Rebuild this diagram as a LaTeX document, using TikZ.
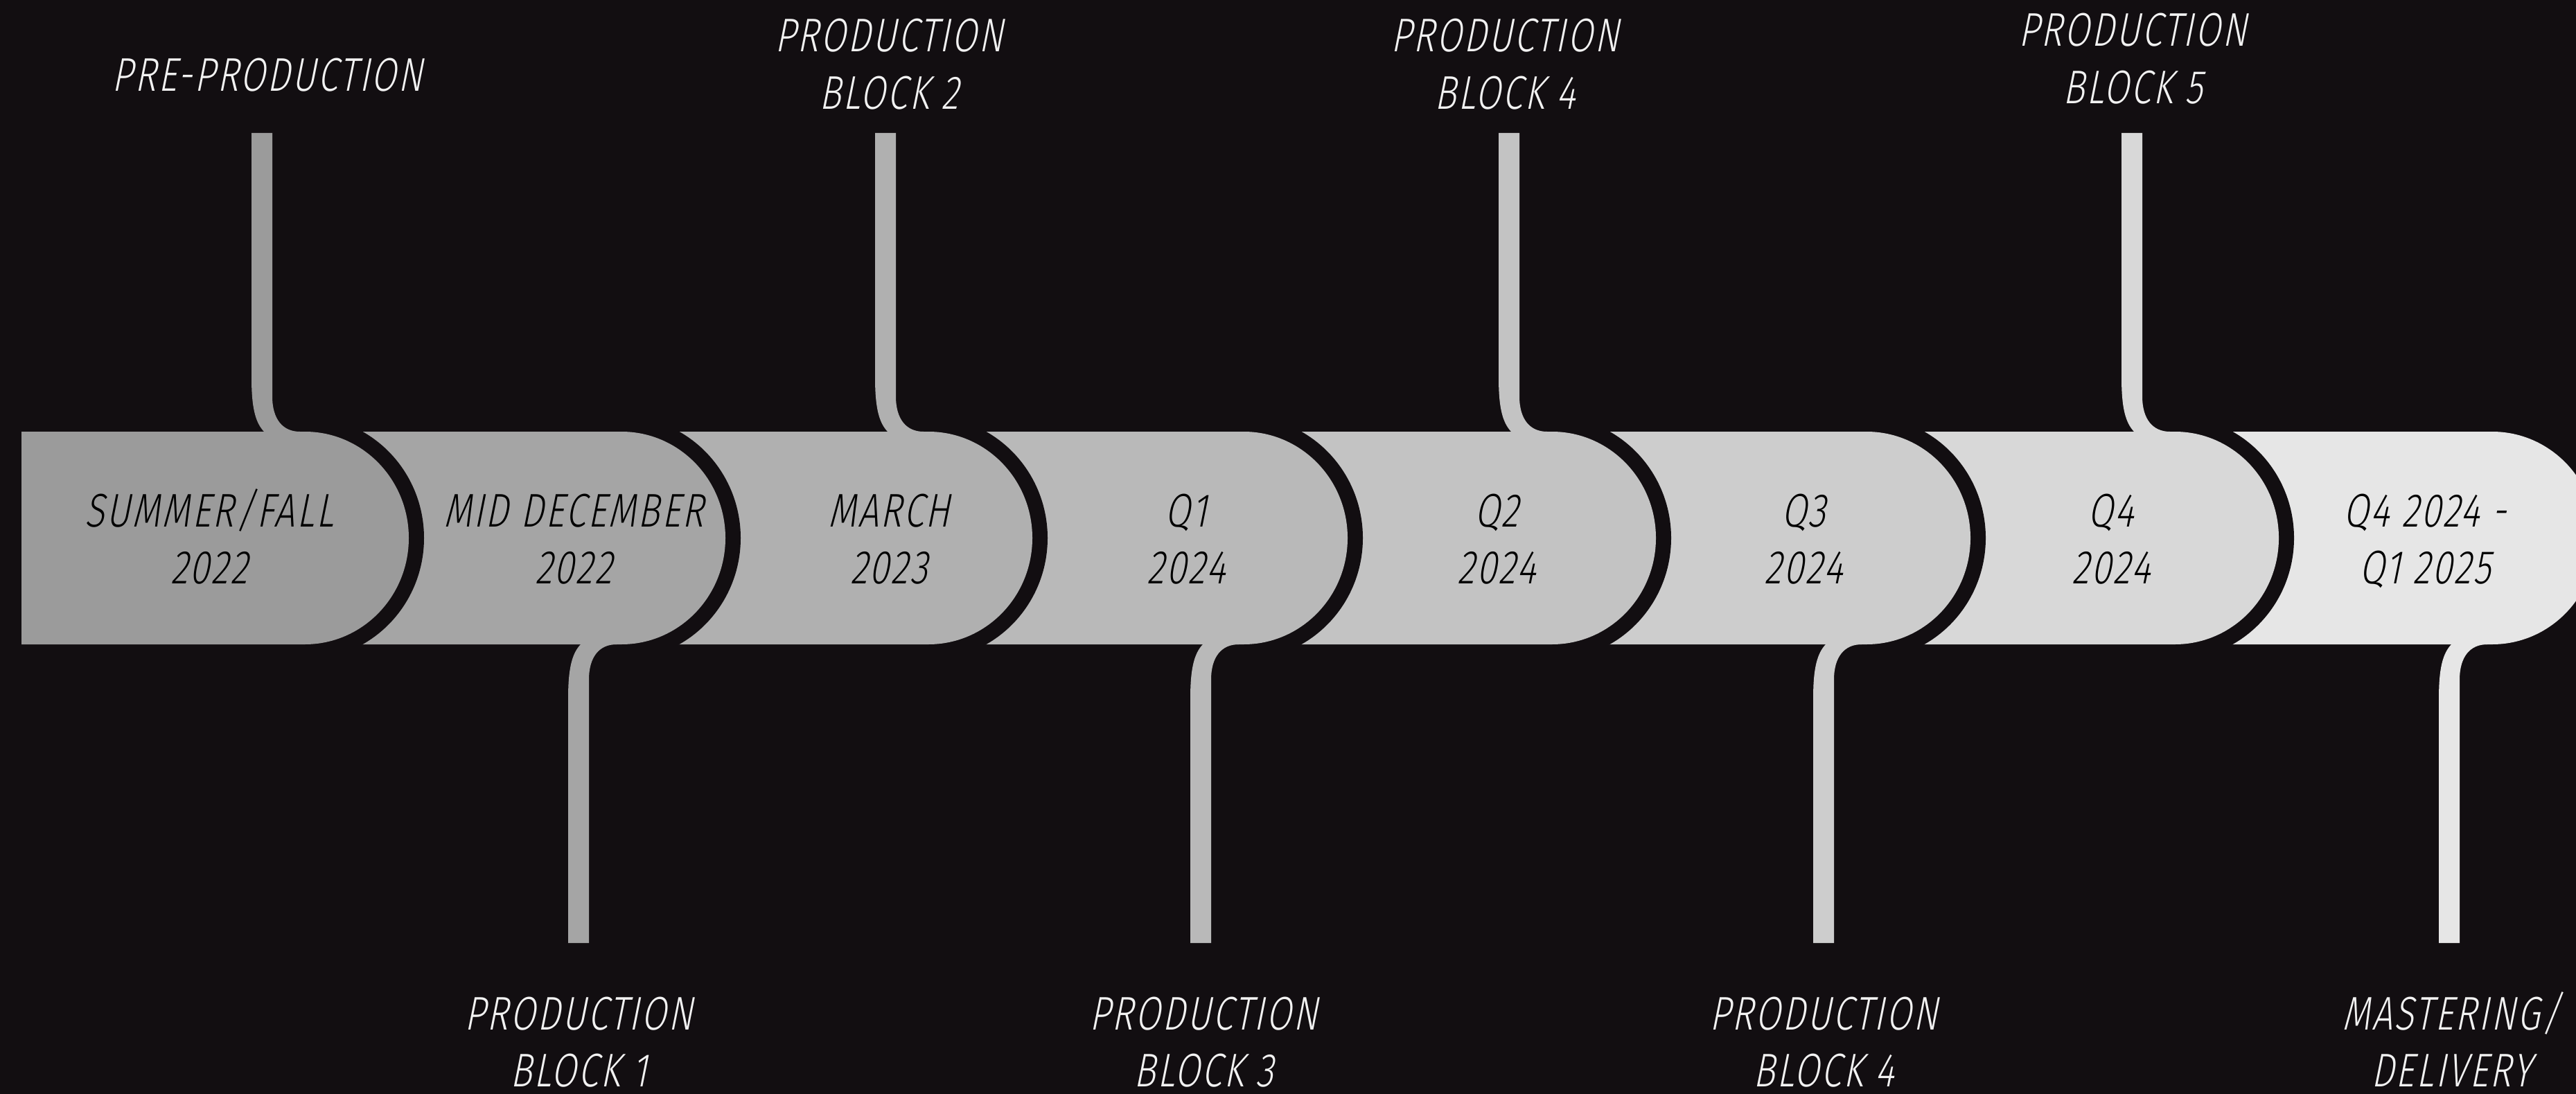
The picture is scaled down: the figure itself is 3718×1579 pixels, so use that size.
\documentclass[tikz,border=0pt]{standalone}
\usepackage{fontspec}
\newfontfamily\lblfont{Fira Sans Light}[FakeStretch=0.77,FakeSlant=0.2,LetterSpace=4]
\definecolor{bg}{RGB}{18,14,17}
\definecolor{gA}{HTML}{9B9B9B}
\definecolor{gB}{HTML}{A5A5A5}
\definecolor{gC}{HTML}{B0B0B0}
\definecolor{gD}{HTML}{B9B9B9}
\definecolor{gE}{HTML}{C3C3C3}
\definecolor{gF}{HTML}{CDCDCD}
\definecolor{gG}{HTML}{D8D8D8}
\definecolor{gH}{HTML}{E6E6E6}
\definecolor{lbl}{HTML}{F2F2F2}
\newcommand\twolines[2]{\vtop{\halign{\hfil##\hfil\cr #1\cr #2\cr}}}
% segment: #1 left x, #2 curve start x, #3 colour
\newcommand\segD[3]{%
  \fill[bg] (#1,601) -- (#2,601) .. controls ({#2+95},601) and ({#2+172},679.6) .. ({#2+172},776.5)
     .. controls ({#2+172},873.4) and ({#2+95},952) .. (#2,952) -- (#1,952) -- cycle;
  \fill[#3] (#1,623) -- (#2,623) .. controls ({#2+82.8},623) and ({#2+150},691.7) .. ({#2+150},776.5)
     .. controls ({#2+150},861.3) and ({#2+82.8},930) .. (#2,930) -- (#1,930) -- cycle;}
% stems: #1 centre x, #2 colour
\newcommand\topstem[2]{%
  \fill[#2] ({#1-15},192) -- ({#1-15},545) .. controls ({#1-15},590) and ({#1-9},610) .. ({#1+3},623)
     -- ({#1+4},628) -- ({#1+55},628) -- ({#1+55},623) .. controls ({#1+30},623) and ({#1+15},605) .. ({#1+15},572)
     -- ({#1+15},192) -- cycle;}
\newcommand\botstem[2]{%
  \fill[#2] ({#1-15},1361) -- ({#1-15},1008) .. controls ({#1-15},963) and ({#1-9},943) .. ({#1+3},930)
     -- ({#1+4},925) -- ({#1+55},925) -- ({#1+55},930) .. controls ({#1+30},930) and ({#1+15},948) .. ({#1+15},981)
     -- ({#1+15},1361) -- cycle;}
\tikzset{
  outlabel/.style={anchor=base, inner sep=0pt, text=lbl, font=\lblfont\fontsize{19.4}{23.5}\selectfont},
  barlabel/.style={anchor=base, inner sep=0pt, text=black, font=\lblfont\fontsize{19.4}{23.5}\selectfont}
}
\begin{document}
\begin{tikzpicture}[x=0.01cm,y=-0.01cm]
\useasboundingbox (0,0) rectangle (3718,1579);
\fill[bg] (0,0) rectangle (3718,1579);
% bar segments, right to left
\begin{scope}
  \clip (0,623) rectangle (3718,930);
  \segD{3139}{3597}{gH}
  \segD{2694}{3139}{gG}
  \segD{2240}{2694}{gF}
  \segD{1795}{2240}{gE}
  \segD{1340}{1795}{gD}
  \segD{897}{1340}{gC}
  \segD{440}{897}{gB}
  \segD{31}{440}{gA}
\end{scope}
% stems
\topstem{378}{gA}
\botstem{835}{gB}
\topstem{1278}{gC}
\botstem{1733}{gD}
\topstem{2178}{gE}
\botstem{2632}{gF}
\topstem{3077}{gG}
\botstem{3535}{gH}
% bar texts
\node[barlabel] (t1) at (302,760) {\twolines{SUMMER/FALL}{2022}};
\node[barlabel] (t2) at (828,760) {\twolines{MID DECEMBER}{2022}};
\node[barlabel] (t3) at (1283,760) {\twolines{MARCH}{2023}};
\node[barlabel] (t4) at (1712,760) {\twolines{Q1}{2024}};
\node[barlabel] (t5) at (2160,760) {\twolines{Q2}{2024}};
\node[barlabel] (t6) at (2603,760) {\twolines{Q3}{2024}};
\node[barlabel] (t7) at (3047,760) {\twolines{Q4}{2024}};
\node[barlabel] (t8) at (3500,760) {\twolines{Q4 2024 -}{Q1 2025}};
% labels above
\node[outlabel] (lpre) at (386,132) {PRE-PRODUCTION};
\node[outlabel] (lb2) at (1283,75) {\twolines{PRODUCTION}{BLOCK 2}};
\node[outlabel] (lb4a) at (2172,75) {\twolines{PRODUCTION}{BLOCK 4}};
\node[outlabel] (lb5) at (3078,67) {\twolines{PRODUCTION}{BLOCK 5}};
% labels below
\node[outlabel] (lb1) at (835,1486) {\twolines{PRODUCTION}{BLOCK 1}};
\node[outlabel] (lb3) at (1737,1486) {\twolines{PRODUCTION}{BLOCK 3}};
\node[outlabel] (lb4b) at (2632,1486) {\twolines{PRODUCTION}{BLOCK 4}};
\node[outlabel] (lmd) at (3538,1486) {\twolines{MASTERING/}{DELIVERY}};
\end{tikzpicture}
\end{document}
